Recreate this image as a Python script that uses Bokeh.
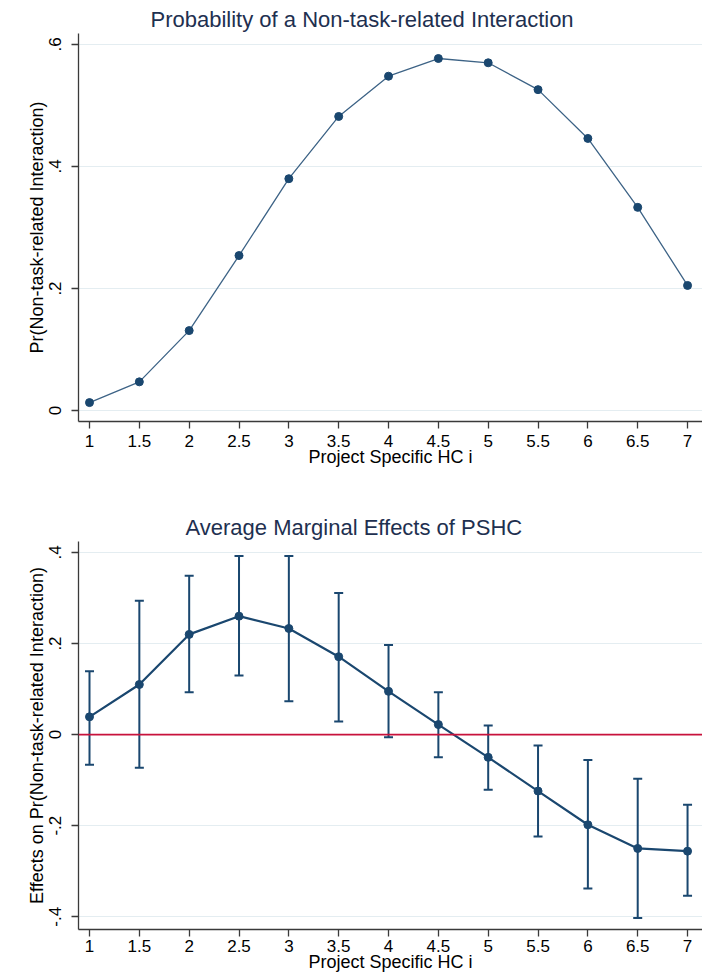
import numpy as np
from bokeh.plotting import figure
from bokeh.layouts import column
from bokeh.models import Range1d, FixedTicker, Whisker, ColumnDataSource, TeeHead, Span
from bokeh.embed import file_html
from bokeh.resources import INLINE

# ---------------- data ----------------
x_vals = [1, 1.5, 2, 2.5, 3, 3.5, 4, 4.5, 5, 5.5, 6, 6.5, 7]
x_tick_labels = ["1", "1.5", "2", "2.5", "3", "3.5", "4", "4.5", "5", "5.5", "6", "6.5", "7"]

pr_vals = [0.013, 0.047, 0.131, 0.254, 0.380, 0.482, 0.548, 0.577, 0.570, 0.526, 0.446, 0.333, 0.205]
top_y_ticks = [0, 0.2, 0.4, 0.6]
top_y_labels = ["0", ".2", ".4", ".6"]

ame_vals = [0.039, 0.110, 0.220, 0.260, 0.233, 0.171, 0.095, 0.022, -0.050, -0.124, -0.198, -0.250, -0.256]
ame_upper = [0.139, 0.294, 0.349, 0.392, 0.392, 0.311, 0.197, 0.093, 0.020, -0.024, -0.056, -0.097, -0.154]
ame_lower = [-0.066, -0.073, 0.093, 0.130, 0.073, 0.029, -0.006, -0.050, -0.121, -0.224, -0.338, -0.403, -0.354]
bot_y_ticks = [-0.4, -0.2, 0, 0.2, 0.4]
bot_y_labels = ["-.4", "-.2", "0", ".2", ".4"]

NAVY = "#1a476f"
TITLE_C = "#1e3050"
GRID_C = "#e4edf1"
AXIS_C = "#3a3a3a"
FONT = "Liberation Sans"


def style(p, ylabel, yticks, ylabels, x_std):
    p.outline_line_color = None
    p.background_fill_color = "white"
    p.border_fill_color = "white"
    p.xgrid.grid_line_color = None
    p.ygrid.grid_line_color = GRID_C
    p.ygrid.grid_line_width = 1
    p.xaxis.ticker = FixedTicker(ticks=x_vals)
    p.xaxis.major_label_overrides = {float(v): s for v, s in zip(x_vals, x_tick_labels)}
    p.yaxis.ticker = FixedTicker(ticks=yticks)
    p.yaxis.major_label_overrides = {float(v): s for v, s in zip(yticks, ylabels)}
    p.yaxis.major_label_orientation = "vertical"
    for ax in (p.xaxis[0], p.yaxis[0]):
        ax.axis_line_color = AXIS_C
        ax.axis_line_width = 1.3
        ax.major_tick_line_color = AXIS_C
        ax.major_tick_line_width = 1.3
        ax.major_tick_out = 7
        ax.major_tick_in = 0
        ax.minor_tick_line_color = None
        ax.major_label_text_font = FONT
        ax.major_label_text_font_size = "17px"
        ax.major_label_text_color = "black"
        ax.axis_label_text_font = FONT
        ax.axis_label_text_font_size = "18px"
        ax.axis_label_text_font_style = "normal"
        ax.axis_label_text_color = "black"
    p.xaxis.axis_label = "Project Specific HC i"
    p.xaxis.major_label_standoff = x_std
    p.xaxis.axis_label_standoff = -3
    p.yaxis.axis_label = ylabel
    p.yaxis.major_label_standoff = 10
    p.yaxis.axis_label_standoff = 0
    p.title.text_font = FONT
    p.title.text_font_size = "22px"
    p.title.text_font_style = "normal"
    p.title.text_color = TITLE_C
    p.title.align = "left"
    p.title.standoff = 4


X_RANGE = (0.8896, 7.150)

# ---------------- top chart ----------------
p1 = figure(width=702, height=488, output_backend="svg", toolbar_location=None,
            title="Probability of a Non-task-related Interaction",
            x_range=Range1d(*X_RANGE), y_range=Range1d(-0.018, 0.618),
            min_border_left=78, min_border_right=0, min_border_top=33, min_border_bottom=67)
style(p1, "Pr(Non-task-related Interaction)", top_y_ticks, top_y_labels, 6)
p1.title.offset = 72
src1 = ColumnDataSource(dict(x=x_vals, y=pr_vals))
p1.line("x", "y", source=src1, line_color="#3d6386", line_width=1.3)
p1.scatter("x", "y", source=src1, size=8, fill_color=NAVY, line_color=NAVY)

# ---------------- bottom chart ----------------
p2 = figure(width=702, height=488, output_backend="svg", toolbar_location=None,
            title="Average Marginal Effects of PSHC",
            x_range=Range1d(*X_RANGE), y_range=Range1d(-0.428, 0.424),
            min_border_left=78, min_border_right=0, min_border_top=53, min_border_bottom=47)
style(p2, "Effects on Pr(Non-task-related Interaction)", bot_y_ticks, bot_y_labels, 3)
p2.title.offset = 107
p2.add_layout(Span(location=0, dimension="width", line_color="#c8123c", line_width=1.6))
src2 = ColumnDataSource(dict(x=x_vals, y=ame_vals, up=ame_upper, lo=ame_lower))
p2.add_layout(Whisker(source=src2, base="x", upper="up", lower="lo",
                      line_color=NAVY, line_width=2,
                      upper_head=TeeHead(size=9, line_color=NAVY, line_width=2),
                      lower_head=TeeHead(size=9, line_color=NAVY, line_width=2)))
p2.line("x", "y", source=src2, line_color=NAVY, line_width=2.2)
p2.scatter("x", "y", source=src2, size=8, fill_color=NAVY, line_color=NAVY)

layout = column(p1, p2, spacing=0)
open("out.html", "w").write(file_html(layout, INLINE))
